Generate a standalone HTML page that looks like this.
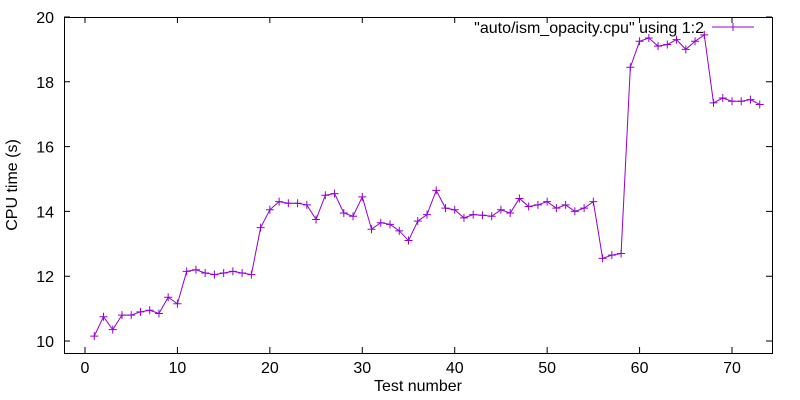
<!DOCTYPE html>
<html><head><meta charset="utf-8"><style>
body{margin:0;background:#fff}
svg{display:block;font-family:"Liberation Sans",sans-serif}
</style></head><body>
<svg id="chart" width="800" height="400" viewBox="0 0 800 400"></svg>
<script>
const xTicks=[0,10,20,30,40,50,60,70];
const yTicks=[10,12,14,16,18,20];
const testNumbers=[];for(let i=1;i<=73;i++)testNumbers.push(i);
const cpuTimes=[10.15,10.75,10.35,10.8,10.8,10.9,10.95,10.85,11.35,11.15,12.15,12.2,12.1,12.05,12.1,12.15,12.1,12.05,13.5,14.05,14.3,14.25,14.25,14.2,13.75,14.5,14.55,13.95,13.85,14.45,13.45,13.65,13.6,13.4,13.1,13.7,13.9,14.65,14.1,14.05,13.8,13.9,13.88,13.85,14.05,13.95,14.4,14.15,14.2,14.3,14.1,14.2,14.0,14.1,14.3,12.55,12.65,12.7,18.45,19.25,19.35,19.1,19.15,19.3,19.0,19.25,19.45,17.35,17.5,17.4,17.4,17.45,17.3];
const L=64,R=772,T=17,B=353;
const FS=16;
const xs=v=>85+v*(732-85)/70;
const ys=v=>341-(v-10)*(341-17)/10;
const svg=document.getElementById('chart');const NS='http://www.w3.org/2000/svg';
function mk(tag,a,p){const e=document.createElementNS(NS,tag);for(const k in a)e.setAttribute(k,a[k]);(p||svg).appendChild(e);return e;}
let e=mk('rect',{x:L+.5,y:T+.5,width:R-L,height:B-T,fill:'none',stroke:'#000'});


xTicks.forEach(t=>{const x=xs(t);
 const l=mk('path',{d:`M${x} ${B}v-6M${x} ${T}v6`,stroke:'#000'});
 
 
 const tx=mk('text',{x:x,y:373,'text-anchor':'middle','font-size':FS});tx.textContent=t;
 
 });
yTicks.forEach(t=>{const y=ys(t);
 const l=mk('path',{d:`M${L} ${y}h6M${R} ${y}h-6`,stroke:'#000'});
 
 
 const tx=mk('text',{x:54,y:y+6,'text-anchor':'end','font-size':FS});tx.textContent=t;
 
 });
let xt=mk('text',{x:418,y:391,'text-anchor':'middle','font-size':FS});xt.textContent='Test number';


let yt=mk('text',{x:17,y:185,'text-anchor':'middle','font-size':FS,transform:'rotate(-90 17 185)'});yt.textContent='CPU time (s)';


const col='#9400d3';
const pts=testNumbers.map((n,i)=>[xs(n),ys(cpuTimes[i])]);
const line=mk('polyline',{points:pts.map(p=>p.join(',')).join(' '),fill:'none',stroke:col,'stroke-width':1});


pts.forEach(p=>{const m=mk('path',{d:`M${p[0]-4} ${p[1]}h8M${p[0]} ${p[1]-4}v8`,stroke:col,'stroke-width':1});
 
 });
const lt=mk('text',{x:704,y:33,'text-anchor':'end','font-size':FS});lt.textContent='"auto/ism_opacity.cpu" using 1:2';


const ls=mk('path',{d:'M712 27h42M733 23v8',stroke:col});


</script>
</body></html>
